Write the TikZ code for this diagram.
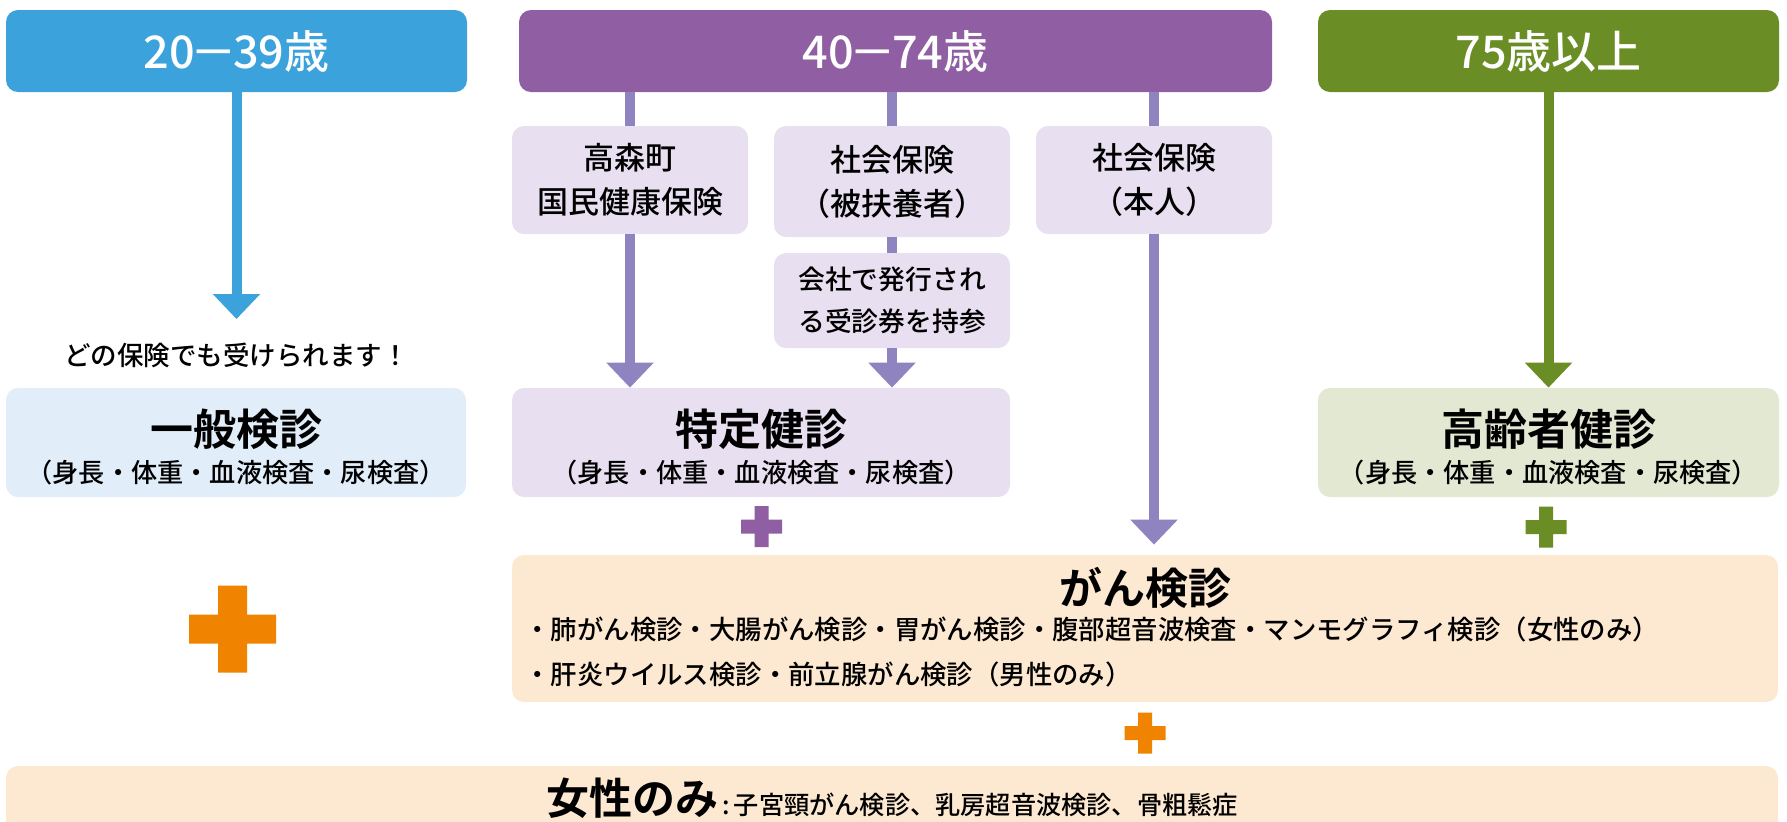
\documentclass[tikz,border=0pt]{standalone}
\usepackage{fontspec}
\setmainfont{Noto Sans CJK JP}[UprightFont=* Medium, BoldFont=* Bold]
\usetikzlibrary{arrows.meta,positioning}

\definecolor{hdrblue}{HTML}{3BA2DC}
\definecolor{hdrviolet}{HTML}{905EA2}
\definecolor{hdrgreen}{HTML}{6A8E25}
\definecolor{flowviolet}{HTML}{8F84BF}
\definecolor{boxblue}{HTML}{E1EDF9}
\definecolor{boxlav}{HTML}{E8E0F0}
\definecolor{boxgreen}{HTML}{E3E8D3}
\definecolor{boxpeach}{HTML}{FDE8D1}
\definecolor{plusorange}{HTML}{F08300}

\tikzset{
    %Define style for the age headers
    agehdr/.style={
           rectangle,
           rounded corners=6pt,
           fill=#1, text=white,
           minimum width=230.5pt,
           minimum height=41pt,
           inner sep=0pt,
           font=\fontsize{22.5}{26}\selectfont},
    %Define style for insurance boxes
    insbox/.style={
           rectangle,
           rounded corners=6pt,
           fill=boxlav,
           minimum width=118pt,
           minimum height=54pt,
           inner sep=0pt,
           align=center,
           font=\fontsize{15.5}{22}\selectfont},
    %Define style for exam boxes
    exambox/.style={
           rectangle,
           rounded corners=6pt,
           fill=#1,
           minimum width=230pt,
           minimum height=54.5pt,
           inner sep=0pt},
    examtitle/.style={
           inner sep=0pt,
           font=\fontsize{21.5}{25}\selectfont\bfseries},
    examsub/.style={
           inner sep=0pt,
           font=\fontsize{13.1}{15}\selectfont},
    % Define arrow styles
    flow/.style={
           draw=#1,
           line width=5pt,
           -{Triangle[width=23pt,length=12.5pt]}},
    joinline/.style={
           draw=#1,
           line width=5pt},
}

% long dash in the age ranges
\newcommand{\agedash}{\scalebox{1.5}[1]{−}}
% plus sign: colour, centre, half size, half thickness
\newcommand{\plusmark}[4]{%
  \fill[#1, shift={(#2)}] (-#3,-#4) rectangle (#3,#4) (-#4,-#3) rectangle (#4,#3);}

\begin{document}
\begin{tikzpicture}[x=0.5pt, y=-0.5pt]
  \clip (0,0) rectangle (1787,821);

  % age headers
  \node[agehdr=hdrblue] (hdr1) at (236.5,51) {20\agedash39歳};
  \node[agehdr=hdrviolet, minimum width=376.5pt] (hdr2) at (895.5,51) {40\agedash74歳};
  \node[agehdr=hdrgreen] (hdr3) at (1548.5,51) {75歳以上};

  % insurance boxes
  \node[insbox] (kokuho) at (630,180) {高森町\\国民健康保険};
  \node[insbox, minimum height=55.5pt] (fuyou) at (892,181.5) {社会保険\\（被扶養者）};
  \node[insbox, minimum height=47.5pt, font=\fontsize{13.4}{21}\selectfont]
       (ticket) at (892,300.5) {会社で発行され\\る受診券を持参};
  \node[insbox] (honnin) at (1154,180) {社会保険\\（本人）};

  \node[inner sep=0pt, font=\fontsize{13.25}{15}\selectfont] (note) at (236.5,355)
       {どの保険でも受けられます！};
  \coordinate (bluetip) at (236.5,319);

  % exam boxes
  \node[exambox=boxblue] (ippan) at (236,442.5) {};
  \node[exambox=boxlav, minimum width=249pt] (tokutei) at (761,442.5) {};
  \node[exambox=boxgreen, minimum width=230.5pt] (kourei) at (1548.5,442.5) {};
  \node[examtitle] (ippanT) at ([yshift=6.75pt]ippan.center) {一般検診};
  \node[examsub] (ippanS) at ([yshift=-15.25pt]ippan.center) {（身長・体重・血液検査・尿検査）};
  \node[examtitle] (tokuteiT) at ([yshift=6.75pt]tokutei.center) {特定健診};
  \node[examsub] (tokuteiS) at ([yshift=-15.25pt]tokutei.center) {（身長・体重・血液検査・尿検査）};
  \node[examtitle] (koureiT) at ([yshift=6.75pt]kourei.center) {高齢者健診};
  \node[examsub] (koureiS) at ([yshift=-15.25pt]kourei.center) {（身長・体重・血液検査・尿検査）};

  \node[exambox=boxpeach, minimum width=633pt, minimum height=73.5pt] (gan) at (1145,628.5) {};
  \node[examtitle] (ganT) at ([yshift=20.5pt]gan.center) {がん検診};
  \node[anchor=west, align=left, inner sep=0pt, font=\fontsize{13.2}{22.5}\selectfont]
       (ganlist) at (524,652)
       {・肺がん検診・大腸がん検診・胃がん検診・腹部超音波検査・マンモグラフィ検診（女性のみ）\\
        ・肝炎ウイルス検診・前立腺がん検診（男性のみ）};

  \node[exambox=boxpeach, minimum width=886pt, minimum height=42pt] (women) at (892,808) {};
  \node[anchor=base, inner sep=0pt] (womenT) at (892,814)
       {{\fontsize{21.5}{24}\selectfont\bfseries 女性のみ}{\fontsize{12.6}{15}\selectfont\,:\,子宮頸がん検診、乳房超音波検診、骨粗鬆症}};

  % connectors
  \draw[flow=hdrblue] (hdr1.south) -- (bluetip);
  \draw[joinline=flowviolet] (kokuho.north |- hdr2.south) -- (kokuho.north);
  \draw[flow=flowviolet] (kokuho.south) -- (kokuho.south |- tokutei.north);
  \draw[joinline=flowviolet] (fuyou.north |- hdr2.south) -- (fuyou.north);
  \draw[joinline=flowviolet] (fuyou.south) -- (ticket.north);
  \draw[flow=flowviolet] (ticket.south) -- (ticket.south |- tokutei.north);
  \draw[joinline=flowviolet] (honnin.north |- hdr2.south) -- (honnin.north);
  \draw[flow=flowviolet, shorten >=5pt] (honnin.south) -- (honnin.south |- gan.north);
  \draw[flow=hdrgreen] (hdr3.south) -- (hdr3.south |- kourei.north);

  % plus signs
  \plusmark{hdrviolet}{761.5,526.5}{20.5}{7}
  \plusmark{hdrgreen}{1546,527}{20.5}{7}
  \plusmark{plusorange}{232.5,629}{43.5}{14.5}
  \plusmark{plusorange}{1145,733}{20.5}{7}
\end{tikzpicture}
\end{document}
